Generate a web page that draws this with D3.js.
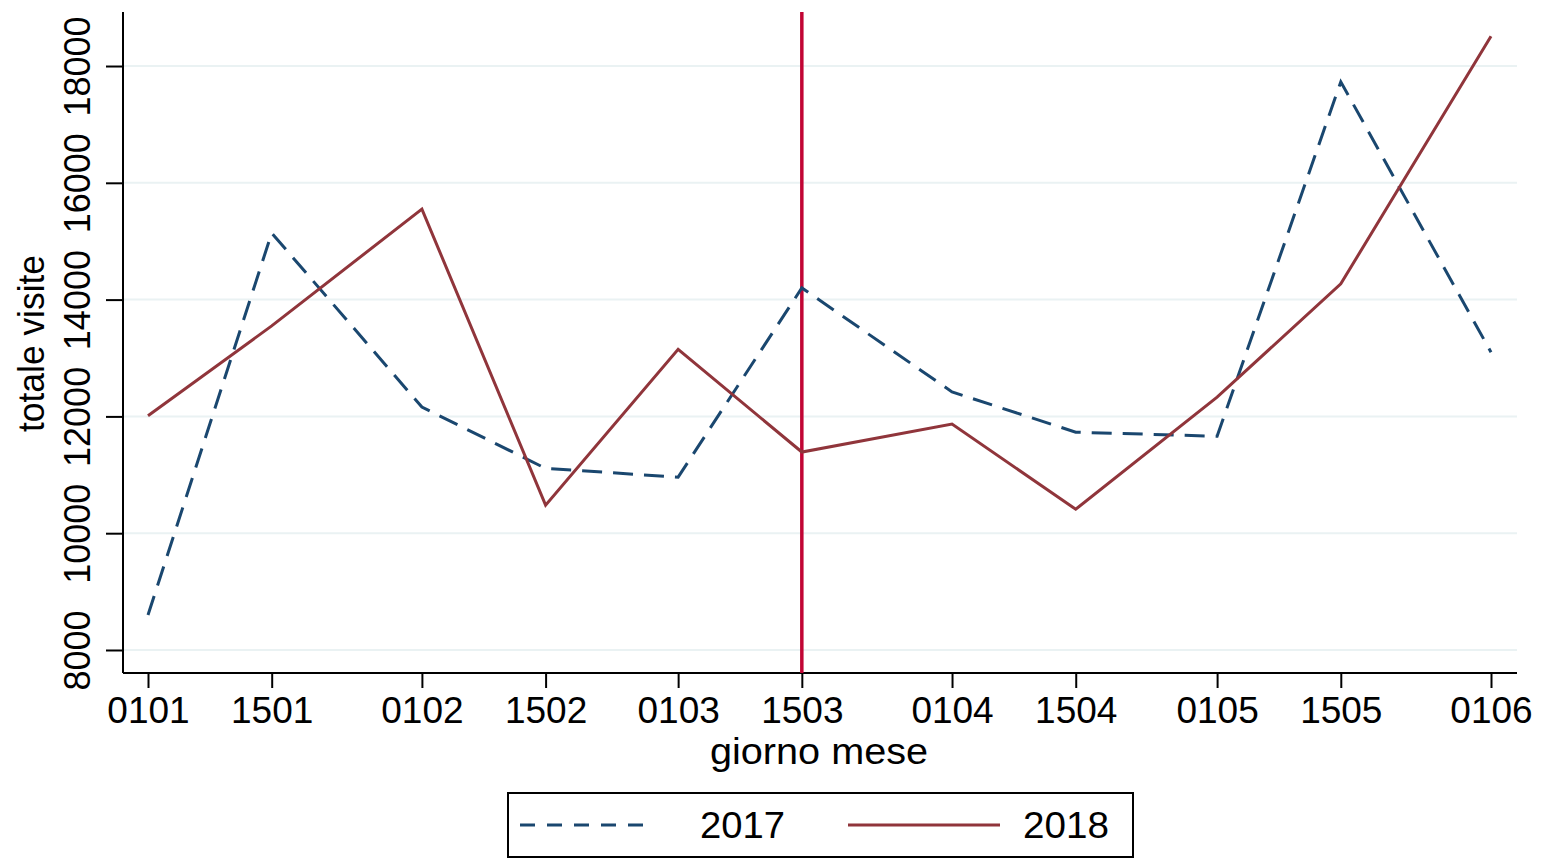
<!DOCTYPE html>
<html>
<head>
<meta charset="utf-8">
<script src="https://cdn.jsdelivr.net/npm/d3@7"></script>
<style>
  body { margin: 0; background: #fff; }
  svg { font-family: "Liberation Sans", Arial, sans-serif; }
</style>
</head>
<body>
<svg id="chart" width="1542" height="859"></svg>
<script>
// giorno mese (ddmm), placed on a leap-year calendar like the original
const tickLabels = ["0101", "1501", "0102", "1502", "0103", "1503", "0104", "1504", "0105", "1505", "0106"];
const series2017 = [8600, 15140, 12160, 11110, 10960, 14200, 12420, 11730, 11660, 17730, 13100];
const series2018 = [12010, 13550, 15550, 10480, 13150, 11390, 11870, 10410, 12330, 14270, 18510];
const yTicks = [8000, 10000, 12000, 14000, 16000, 18000];
const markerDay = "1503";

const parse = d => new Date(2016, +d.slice(2) - 1, +d.slice(0, 2));
const dates = tickLabels.map(parse);

const svg = d3.select("#chart");
const plotLeft = 123, plotRight = 1517, plotTop = 12, plotBottom = 673;

const x = d3.scaleTime()
  .domain([dates[0], dates[dates.length - 1]])
  .range([148, 1491]);

const y = d3.scaleLinear()
  .domain([7606, 18925])
  .range([plotBottom, plotTop]);

// gridlines
svg.append("g")
  .selectAll("line")
  .data(yTicks)
  .enter().append("line")
  .attr("x1", plotLeft).attr("x2", plotRight)
  .attr("y1", d => y(d)).attr("y2", d => y(d))
  .attr("stroke", "#eaf2f3")
  .attr("stroke-width", 2);

// y axis
const yAxis = svg.append("g")
  .attr("transform", `translate(${plotLeft},0)`)
  .call(d3.axisLeft(y).tickValues(yTicks).tickSize(17).tickSizeOuter(0).tickFormat(d3.format("d")));
yAxis.select(".domain").remove();
yAxis.selectAll(".tick line").attr("stroke", "#000").attr("stroke-width", 2);
yAxis.selectAll(".tick text")
  .attr("font-size", 36)
  .attr("fill", "#000")
  .attr("text-anchor", "middle")
  .attr("transform", "rotate(-90)")
  .attr("x", 0)
  .attr("y", -33)
  .attr("dy", 0);
svg.append("line")
  .attr("x1", plotLeft).attr("x2", plotLeft)
  .attr("y1", plotTop).attr("y2", plotBottom)
  .attr("stroke", "#000").attr("stroke-width", 2);

// x axis
const xAxis = svg.append("g")
  .attr("transform", `translate(0,${plotBottom})`)
  .call(d3.axisBottom(x).tickValues(dates).tickSize(15).tickFormat((d, i) => tickLabels[i]));
xAxis.select(".domain").remove();
xAxis.selectAll(".tick line").attr("stroke", "#000").attr("stroke-width", 2);
xAxis.selectAll(".tick text")
  .attr("font-size", 37)
  .attr("fill", "#000")
  .attr("y", 50)
  .attr("dy", 0);
svg.append("line")
  .attr("x1", plotLeft).attr("x2", plotRight)
  .attr("y1", plotBottom).attr("y2", plotBottom)
  .attr("stroke", "#000").attr("stroke-width", 2);

// axis titles
svg.append("text")
  .attr("x", 710).attr("y", 764)
  .attr("font-size", 36)
  .attr("textLength", 218)
  .attr("lengthAdjust", "spacingAndGlyphs")
  .text("giorno mese");
svg.append("text")
  .attr("transform", "translate(44,432) rotate(-90)")
  .attr("font-size", 36)
  .attr("textLength", 177)
  .attr("lengthAdjust", "spacingAndGlyphs")
  .text("totale visite");

// vertical marker
svg.append("line")
  .attr("x1", x(parse(markerDay))).attr("x2", x(parse(markerDay)))
  .attr("y1", plotTop).attr("y2", plotBottom)
  .attr("stroke", "#c10534")
  .attr("stroke-width", 3.5);

const line = d3.line()
  .x((d, i) => x(dates[i]))
  .y(d => y(d));

svg.append("path")
  .datum(series2017)
  .attr("d", line)
  .attr("fill", "none")
  .attr("stroke", "#1a476f")
  .attr("stroke-width", 3)
  .attr("stroke-dasharray", "20,11");

svg.append("path")
  .datum(series2018)
  .attr("d", line)
  .attr("fill", "none")
  .attr("stroke", "#90353b")
  .attr("stroke-width", 3);

// legend
const legend = svg.append("g");
legend.append("rect")
  .attr("x", 508).attr("y", 793)
  .attr("width", 625).attr("height", 64)
  .attr("fill", "#fff")
  .attr("stroke", "#000")
  .attr("stroke-width", 2);
legend.append("line")
  .attr("x1", 520).attr("x2", 645)
  .attr("y1", 825).attr("y2", 825)
  .attr("stroke", "#1a476f").attr("stroke-width", 3)
  .attr("stroke-dasharray", "15,12");
legend.append("text")
  .attr("x", 700).attr("y", 838)
  .attr("font-size", 37)
  .attr("textLength", 85)
  .attr("lengthAdjust", "spacingAndGlyphs")
  .text("2017");
legend.append("line")
  .attr("x1", 848).attr("x2", 1000)
  .attr("y1", 825).attr("y2", 825)
  .attr("stroke", "#90353b").attr("stroke-width", 3);
legend.append("text")
  .attr("x", 1023).attr("y", 838)
  .attr("font-size", 37)
  .attr("textLength", 86)
  .attr("lengthAdjust", "spacingAndGlyphs")
  .text("2018");
</script>
</body>
</html>
